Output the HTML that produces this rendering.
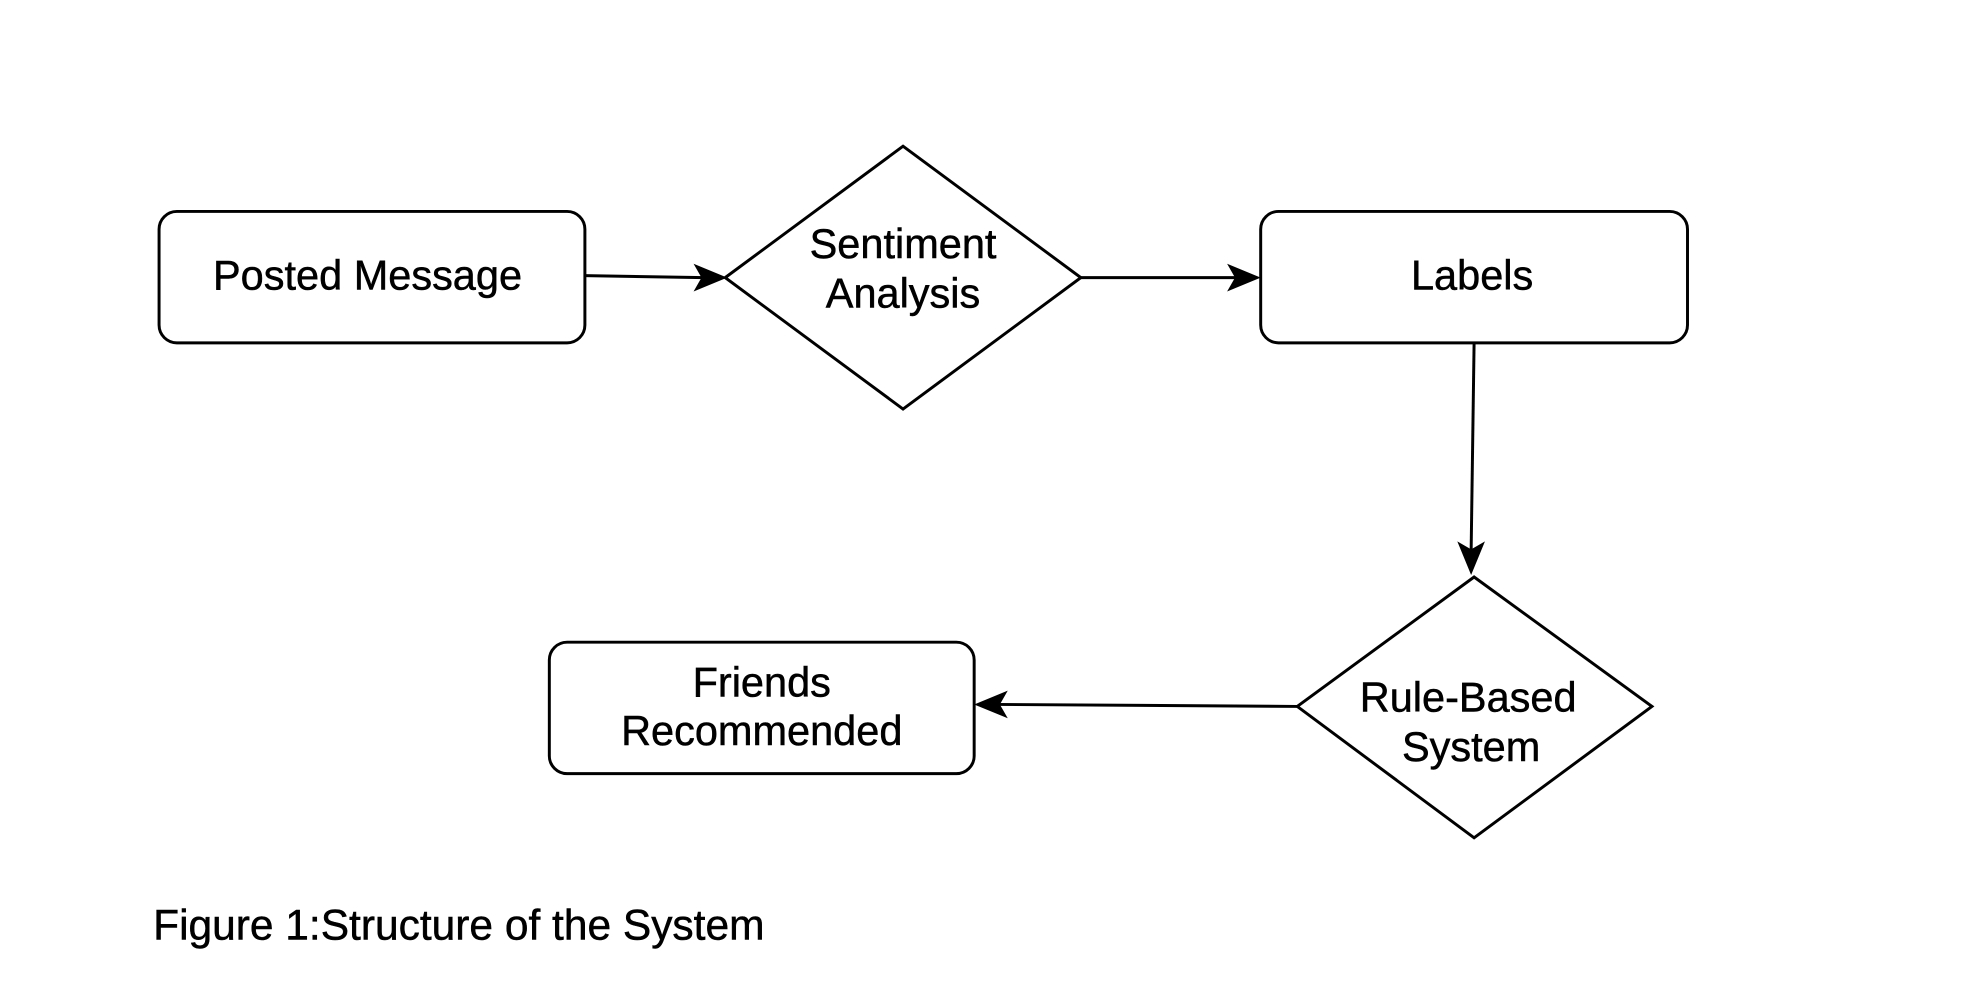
<!DOCTYPE html>
<html><head><style>
html,body{margin:0;padding:0;background:#fff;}
svg{display:block;}
text{font-family:"Liberation Sans",Arial,sans-serif;fill:#000;stroke:#000;stroke-width:0.5;}
</style></head><body>
<svg width="1962" height="998" viewBox="0 0 1962 998">
<g transform="scale(0.988)">
<g fill="none" stroke="#000" stroke-width="3">
<rect x="161" y="214" width="431" height="133" rx="18"/>
<rect x="1276" y="214" width="432" height="133" rx="18"/>
<rect x="556" y="650" width="430" height="133" rx="18"/>
<polygon points="734,281 914,148 1094,281 914,414"/>
<polygon points="1313,715 1492,584 1672,715 1492,848"/>
<line x1="592" y1="279" x2="712" y2="281"/>
<line x1="1094" y1="281" x2="1252" y2="281"/>
<line x1="1492" y1="347" x2="1489" y2="558"/>
<line x1="1313" y1="715" x2="1010" y2="713"/>
</g>
<g fill="#000">
<polygon points="736,281 702,267 710,281 702,295"/>
<polygon points="1276,281 1242,267 1250,281 1242,295"/>
<polygon points="1489,582 1475,548 1489,556 1503,548"/>
<polygon points="986,713 1020,699 1012,713 1020,727"/>
</g>
<g font-size="42" text-anchor="middle">
<text x="372" y="293">Posted Message</text>
<text x="914" y="261">Sentiment</text>
<text x="914" y="311">Analysis</text>
<text x="1490" y="293">Labels</text>
<text x="771" y="705">Friends</text>
<text x="771" y="754">Recommended</text>
<text x="1486" y="720">Rule-Based</text>
<text x="1489" y="770">System</text>
</g>
<text x="155" y="951" font-size="43">Figure 1:Structure of the System</text>
</g>
</svg>
</body></html>
